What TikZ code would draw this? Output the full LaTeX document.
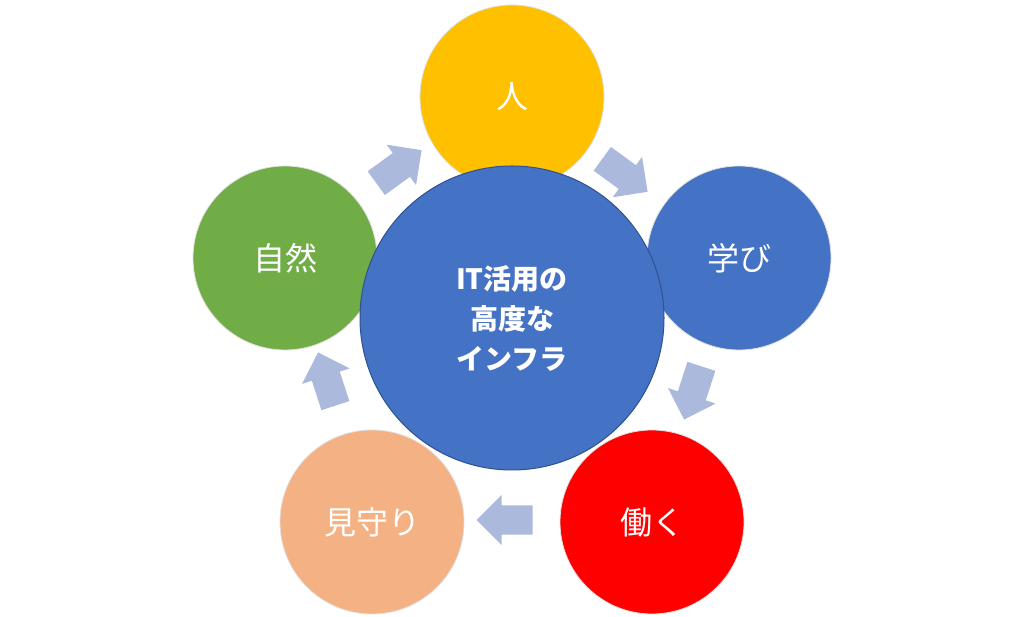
\documentclass[tikz,border=0pt]{standalone}
\usepackage{fontspec}
\newfontfamily\cjk{Noto Sans CJK JP}
\newfontfamily\cjkl{Noto Sans CJK JP Light}
\usetikzlibrary{shapes.arrows}
\definecolor{cy}{HTML}{FFC000}
\definecolor{cb}{HTML}{4472C4}
\definecolor{cr}{HTML}{FF0000}
\definecolor{co}{HTML}{F4B183}
\definecolor{cg}{HTML}{70AD47}
\definecolor{ca}{HTML}{AAB9DC}
\definecolor{cbd}{HTML}{2F528F}
\begin{document}
\begin{tikzpicture}[x=1pt,y=1pt,
  outer/.style={circle,minimum size=184pt,inner sep=0pt,draw=black!12,line width=0.8pt,text=white,font=\cjk\fontsize{32}{36}\selectfont},
  arr/.style={single arrow,fill=ca,draw=none,minimum height=56pt,minimum width=50pt,single arrow head extend=10pt,single arrow head indent=0pt,inner sep=14pt,font=\fontsize{1}{1}\selectfont}]
\useasboundingbox (0,0) rectangle (1024,617);
\fill[white] (0,0) rectangle (1024,617);
\node[outer,fill=cy] (p) at (512,520) {人};
\node[outer,fill=cb] (l) at (739,359) {学び};
\node[outer,fill=cr] (w) at (652,95) {働く};
\node[outer,fill=co] (m) at (372,95) {見守り};
\node[outer,fill=cg] (n) at (285,359) {自然};
\node[circle,minimum size=304pt,inner sep=0pt,fill=cb,draw=cbd,line width=1pt,text=white,align=center,font=\cjk\bfseries\fontsize{28}{40}\selectfont] (c) at (512,299) {IT活用の\\高度な\\インフラ};
\node[arr,rotate=36] (a1) at (393,446) {};
\node[arr,rotate=-36] (a2) at (619,446) {};
\node[arr,rotate=-108] (a3) at (695,231) {};
\node[arr,rotate=180] (a4) at (512,97) {};
\node[arr,rotate=108] (a5) at (329,231) {};
\end{tikzpicture}
\end{document}
